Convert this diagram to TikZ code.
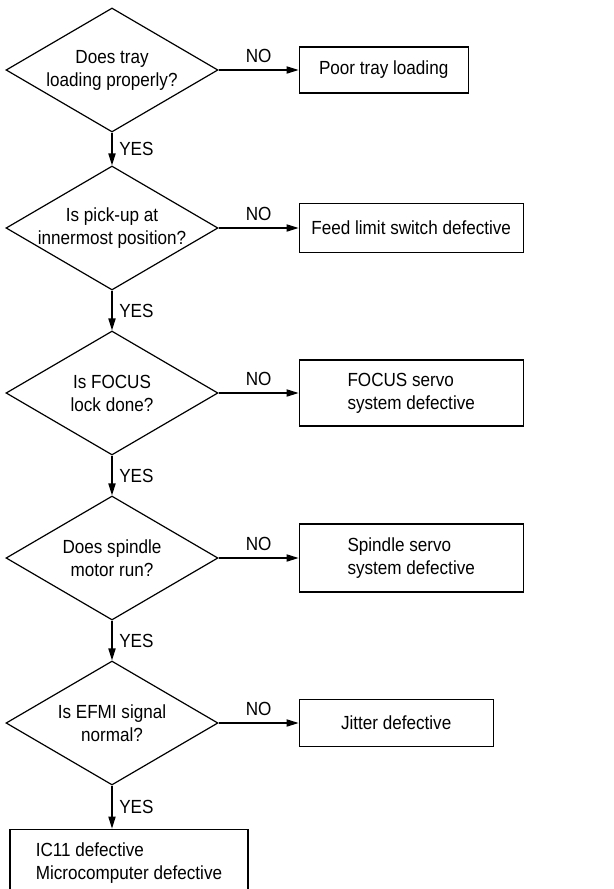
\documentclass[tikz,border=0pt]{standalone}
\usepackage{fontspec}
\setmainfont{Liberation Sans}[FakeStretch=0.9]
\usetikzlibrary{shapes.geometric,arrows.meta,positioning}

\begin{document}
\begin{tikzpicture}[node distance=82.5pt, line width=0.6pt,
  >={Triangle[length=6pt,width=3.6pt]},
  font=\fontsize{9.5}{11.5}\selectfont,
  question/.style={diamond, draw, aspect=1.7, inner sep=-2pt, minimum width=106pt, minimum height=62pt, align=center},
  fault/.style={rectangle, draw, align=left, inner sep=0pt}]
\useasboundingbox (0,0) rectangle (307pt,-444.5pt);
\node[question] (tray) at (56pt,-35pt) {Does tray\\loading properly?};
\node[question, below of=tray, yshift=3.5pt] (pickup) {Is pick-up at\\innermost position?};
\node[question, below of=pickup] (focus) {Is FOCUS\\lock done?};
\node[question, below of=focus] (spindle) {Does spindle\\motor run?};
\node[question, below of=spindle] (efmi) {Is EFMI signal\\normal?};
\node[fault, right=40pt of tray, minimum width=84.5pt, minimum height=23pt] (poor) {Poor tray loading};
\node[fault, right=40pt of pickup, minimum width=112pt, minimum height=24.5pt] (feed) {Feed limit switch defective};
\node[fault, right=40pt of focus, minimum width=112pt, minimum height=33pt] (focussrv) {FOCUS servo\\system defective};
\node[fault, right=40pt of spindle, minimum width=112pt, minimum height=34pt] (spindlesrv) {Spindle servo\\system defective};
\node[fault, right=40pt of efmi, minimum width=97pt, minimum height=23.5pt] (jitter) {Jitter defective};
\node[fault, below=21.5pt of efmi, xshift=8.5pt, minimum width=119pt, minimum height=34pt] (ic) {IC11 defective\\Microcomputer defective};
\draw[->] (tray) -- node[right]{YES} (pickup);
\draw[->] (pickup) -- node[right]{YES} (focus);
\draw[->] (focus) -- node[right]{YES} (spindle);
\draw[->] (spindle) -- node[right]{YES} (efmi);
\draw[->] (efmi) -- node[right]{YES} (efmi |- ic.north);
\draw[->] (tray) -- node[above]{NO} (poor);
\draw[->] (pickup) -- node[above]{NO} (feed);
\draw[->] (focus) -- node[above]{NO} (focussrv);
\draw[->] (spindle) -- node[above]{NO} (spindlesrv);
\draw[->] (efmi) -- node[above]{NO} (jitter);
\end{tikzpicture}
\end{document}
